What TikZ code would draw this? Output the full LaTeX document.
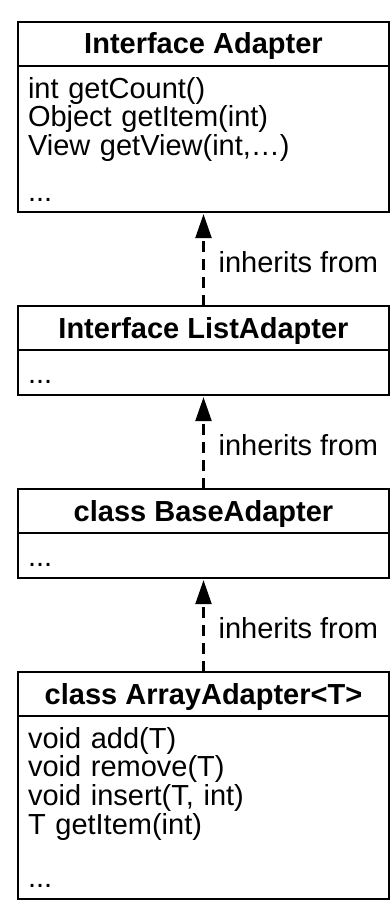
\documentclass[tikz,border=0pt]{standalone}
\usepackage{fontspec}
\setmainfont{Liberation Sans}
\usetikzlibrary{positioning, arrows.meta}

\begin{document}
\begin{tikzpicture}[
    node distance=94pt,
    classhead/.style={rectangle, draw=black, line width=2pt, outer sep=0pt, inner sep=0pt, minimum width=371pt, minimum height=44pt, text height=25pt, text depth=5pt, font=\bfseries\fontsize{29pt}{28.7pt}\selectfont},
    classbody/.style={rectangle, draw=black, line width=2pt, outer sep=0pt, inner xsep=10pt, inner ysep=11pt, text width=351pt, minimum height=45pt, align=left, font=\fontsize{29pt}{28.7pt}\selectfont},
    inherit/.style={line width=2.2pt, dash pattern=on 11pt off 7pt, -{Triangle[length=24pt, width=16pt]}, shorten >=2pt},
    note/.style={anchor=west, inner sep=0pt, xshift=14pt, yshift=-3pt, font=\fontsize{29pt}{28.7pt}\selectfont}
]

    \useasboundingbox (0,0) rectangle (391pt,-909pt);

    \node[classhead, anchor=north] (adapterhead) at (203.5pt,-22pt) {Interface Adapter};
    \node[classbody, below=0pt of adapterhead] (adapterbody) {\rule{0pt}{21pt}int getCount()\\ Object getItem(int)\\ View getView(int,…)\\[17pt] ...};

    \node[classhead, below=of adapterbody] (listhead) {Interface ListAdapter};
    \node[classbody, below=0pt of listhead] (listbody) {\rule{0pt}{21pt}...};

    \node[classhead, below=of listbody] (basehead) {class BaseAdapter};
    \node[classbody, below=0pt of basehead] (basebody) {\rule{0pt}{21pt}...};

    \node[classhead, below=of basebody] (arrayhead) {class ArrayAdapter<T>};
    \node[classbody, below=0pt of arrayhead] (arraybody) {\rule{0pt}{21pt}void add(T)\\ void remove(T)\\ void insert(T, int)\\ T getItem(int)\\[25pt] ...};

    \draw[inherit] (listhead) -- node[note] (listnote) {inherits from} (adapterbody);
    \draw[inherit] (basehead) -- node[note] (basenote) {inherits from} (listbody);
    \draw[inherit] (arrayhead) -- node[note] (arraynote) {inherits from} (basebody);

\end{tikzpicture}
\end{document}
